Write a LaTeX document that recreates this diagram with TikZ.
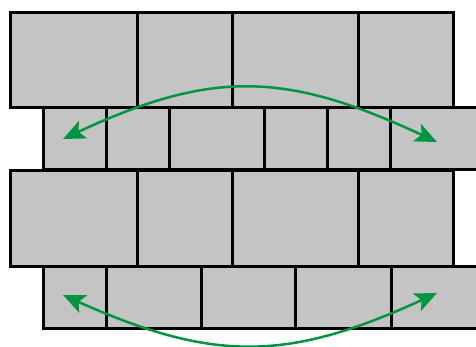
\documentclass[tikz,border=0pt]{standalone}
\usetikzlibrary{arrows.meta}
\definecolor{brickgray}{RGB}{196,196,196}
\definecolor{arrowgreen}{RGB}{0,150,64}
\tikzset{
  brick/.style={draw=black, fill=brickgray, line width=3pt, line join=miter},
  swap/.style={draw=arrowgreen, line width=2.5pt, {Stealth[length=22pt,width=19pt,inset=5pt]}-{Stealth[length=22pt,width=19pt,inset=5pt]}}
}
\begin{document}
\begin{tikzpicture}[x=1pt,y=-1pt]
\useasboundingbox (0,0) rectangle (476,347);
\clip (0,0) rectangle (476,347);
% row 1
\foreach \a/\b in {10/137,137/232,232/358,358/453}
  \draw[brick] (\a,13) rectangle (\b,108);
% row 2
\foreach \a/\b in {43/106,106/169,169/264,264/327,327/390,390/490}
  \draw[brick] (\a,108) rectangle (\b,170);
% row 3
\foreach \a/\b in {10/137,137/232,232/358,358/453}
  \draw[brick] (\a,171) rectangle (\b,266);
% row 4
\foreach \a/\b in {43/106,106/201,201/295,295/391,391/490}
  \draw[brick] (\a,266) rectangle (\b,328);
% arrow ends
\coordinate (tl) at (63,139);
\coordinate (tr) at (437,142);
\coordinate (bl) at (63,295);
\coordinate (br) at (437,293);
\draw[swap] (tl) .. controls (213,69) and (287,72) .. (tr);
\draw[swap] (bl) .. controls (213,362) and (287,362) .. (br);
\end{tikzpicture}
\end{document}
